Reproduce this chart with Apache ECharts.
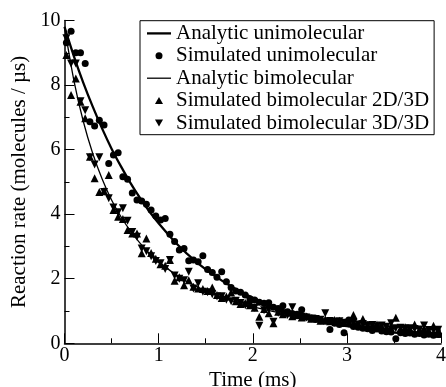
<!DOCTYPE html>
<html>
<head>
<meta charset="utf-8">
<script src="https://cdn.jsdelivr.net/npm/echarts@6/dist/echarts.min.js"></script>
<style>html,body{margin:0;padding:0;background:#fff;}#c{width:446px;height:387px;}</style>
</head>
<body>
<div id="c"></div>
<script>
const xTicks = [0, 1, 2, 3, 4];
const yTicks = [0, 2, 4, 6, 8, 10];

const anaTime = [0,0.1,0.2,0.3,0.4,0.5,0.6,0.7,0.8,0.9,1.0,1.2,1.4,1.6,1.8,2.0,2.2,2.4,2.6,2.8,3.0,3.2,3.4,3.6,3.8,4.0];
const anaUni = [9.80,8.89,8.07,7.33,6.65,6.03,5.48,4.97,4.51,4.09,3.72,3.06,2.52,2.08,1.71,1.41,1.16,0.96,0.79,0.65,0.53,0.44,0.36,0.30,0.25,0.20];
const anaBim = [9.80,8.14,6.87,5.88,5.09,4.44,3.92,3.48,3.11,2.79,2.53,2.09,1.76,1.50,1.30,1.13,1.00,0.89,0.79,0.71,0.64,0.58,0.53,0.49,0.45,0.41];

const simTime = [0.02,0.07,0.12,0.17,0.22,0.27,0.32,0.37,0.42,0.47,0.52,0.57,0.62,0.67,0.72,0.77,0.82,0.87,0.92,0.97,
  1.02,1.07,1.12,1.17,1.22,1.27,1.32,1.37,1.42,1.47,1.52,1.57,1.62,1.67,1.72,1.77,1.82,1.87,1.92,1.97,
  2.02,2.07,2.12,2.17,2.22,2.27,2.32,2.37,2.42,2.47,2.52,2.57,2.62,2.67,2.72,2.77,2.82,2.87,2.92,2.97,
  3.02,3.07,3.12,3.17,3.22,3.27,3.32,3.37,3.42,3.47,3.52,3.57,3.62,3.67,3.72,3.77,3.82,3.87,3.92,3.97];

const simUni = [9.31,9.67,9.00,9.00,8.67,6.86,6.73,6.91,6.76,5.57,
  5.83,5.90,5.16,5.08,4.66,4.44,4.41,4.31,4.13,3.94,
  3.82,3.87,3.38,3.15,2.89,2.94,2.56,2.58,2.53,2.71,
  2.29,2.19,2.05,2.22,1.91,1.73,1.62,1.58,1.50,1.38,
  1.34,1.27,1.24,1.26,1.12,1.08,1.16,0.98,0.92,0.90,
  1.04,0.82,0.78,0.74,0.70,0.68,0.43,0.62,0.58,0.33,
  0.72,0.52,0.50,0.47,0.45,0.40,0.44,0.38,0.36,0.35,
  0.14,0.33,0.30,0.32,0.28,0.30,0.26,0.28,0.25,0.27];

const simBim2D = [8.93,7.69,8.20,7.48,6.97,5.78,5.11,4.69,4.72,5.21,
  4.13,3.92,3.85,3.51,3.40,3.40,2.79,3.25,2.80,2.62,
  2.45,2.40,2.58,1.94,2.05,1.80,1.95,1.75,1.70,1.68,
  1.62,1.73,1.50,1.40,1.45,1.57,1.30,1.22,1.25,1.18,
  1.10,0.82,1.06,0.93,0.62,0.98,0.90,0.95,0.84,0.88,
  0.80,0.83,0.76,0.78,0.70,0.74,0.68,0.72,0.70,0.63,
  0.66,0.88,0.60,0.75,0.57,0.55,0.58,0.52,0.50,0.54,
  0.79,0.46,0.50,0.45,0.58,0.42,0.46,0.40,0.54,0.41];

const simBim3D = [9.45,8.67,8.67,7.50,7.22,5.76,5.54,5.76,4.69,4.49,
  4.21,4.06,4.18,3.80,3.45,3.30,2.94,2.85,2.70,2.55,
  2.48,2.30,2.58,2.10,2.00,1.95,2.22,1.70,1.86,1.60,
  1.58,1.52,1.45,1.46,1.35,1.30,1.32,1.25,1.18,1.20,
  1.10,0.54,1.02,1.05,0.67,0.95,0.92,0.88,1.12,0.85,
  0.82,0.80,0.77,0.75,0.73,0.93,0.69,0.66,0.68,0.64,
  0.61,0.63,0.58,0.60,0.56,0.57,0.53,0.55,0.51,0.62,
  0.47,0.48,0.46,0.47,0.44,0.43,0.55,0.41,0.40,0.42];

const names = ['Analytic unimolecular','Simulated unimolecular','Analytic bimolecular','Simulated bimolecular 2D/3D','Simulated bimolecular 3D/3D'];

const FONT = 'Times';
const UP = 'path://M1,0L2,1.732L0,1.732Z';
const DOWN = 'path://M0,0L2,0L1,1.732Z';
const THICK = 'path://M0,0H24V2.3H0Z';
const THIN = 'path://M0,0H24V1.3H0Z';
const pair = (xs, ys) => xs.map((x, i) => [x, ys[i]]);

const chart = echarts.init(document.getElementById('c'));
chart.setOption({
  animation: false,
  backgroundColor: '#fff',
  grid: {left: 64.5, right: 5, top: 20.5, bottom: 43.7, containLabel: false, outerBoundsMode: 'none'},
  legend: {
    orient: 'vertical',
    left: 140, top: 20.7,
    padding: [1.5, 5, 0.5, 7],
    itemGap: 0,
    itemWidth: 24, itemHeight: 7,
    symbolKeepAspect: true,
    borderColor: '#000', borderWidth: 1,
    backgroundColor: '#fff',
    textStyle: {fontFamily: FONT, fontSize: 21, color: '#000', lineHeight: 22.4},
    data: [
      {name: names[0], icon: THICK, itemStyle: {color: '#000'}},
      {name: names[1], icon: 'circle'},
      {name: names[2], icon: THIN, itemStyle: {color: '#000'}},
      {name: names[3], icon: UP},
      {name: names[4], icon: DOWN}
    ]
  },
  xAxis: {
    type: 'value', min: xTicks[0], max: xTicks[xTicks.length-1], interval: 1,
    name: 'Time (ms)', nameLocation: 'middle', nameGap: 25,
    nameTextStyle: {fontFamily: FONT, fontSize: 21, color: '#000'},
    axisLine: {show: true, onZero: false, lineStyle: {color: '#000', width: 1.5}},
    axisTick: {show: true, inside: true, length: 10, lineStyle: {color: '#000', width: 1}},
    minorTick: {show: true, splitNumber: 2, length: 5, lineStyle: {color: '#000', width: 1}},
    splitLine: {show: false},
    axisLabel: {fontFamily: FONT, fontSize: 20, color: '#000', margin: 2}
  },
  yAxis: {
    type: 'value', min: yTicks[0], max: yTicks[yTicks.length-1], interval: 2,
    name: 'Reaction rate (molecules / µs)', nameLocation: 'middle', nameGap: 28,
    nameTextStyle: {fontFamily: FONT, fontSize: 21, color: '#000'},
    axisLine: {show: true, onZero: false, lineStyle: {color: '#000', width: 1.5}},
    axisTick: {show: true, inside: true, length: 10, lineStyle: {color: '#000', width: 1}},
    minorTick: {show: true, splitNumber: 2, length: 5, lineStyle: {color: '#000', width: 1}},
    splitLine: {show: false},
    axisLabel: {fontFamily: FONT, fontSize: 20, color: '#000', margin: 4}
  },
  series: [
    {name: names[0], type: 'line', data: pair(anaTime, anaUni), smooth: 0.3, symbol: 'none',
     lineStyle: {color: '#000', width: 2.3}, itemStyle: {color: '#000'}, z: 3},
    {name: names[1], type: 'scatter', data: pair(simTime, simUni), symbol: 'circle', symbolSize: 7,
     itemStyle: {color: '#000', opacity: 1}, z: 2},
    {name: names[2], type: 'line', data: pair(anaTime, anaBim), smooth: 0.3, symbol: 'none',
     lineStyle: {color: '#000', width: 1.3}, itemStyle: {color: '#000'}, z: 3},
    {name: names[3], type: 'scatter', data: pair(simTime, simBim2D), symbol: UP, symbolSize: 8,
     itemStyle: {color: '#000', opacity: 1}, z: 2},
    {name: names[4], type: 'scatter', data: pair(simTime, simBim3D), symbol: DOWN, symbolSize: 8,
     itemStyle: {color: '#000', opacity: 1}, z: 2}
  ]
});
</script>
</body>
</html>
